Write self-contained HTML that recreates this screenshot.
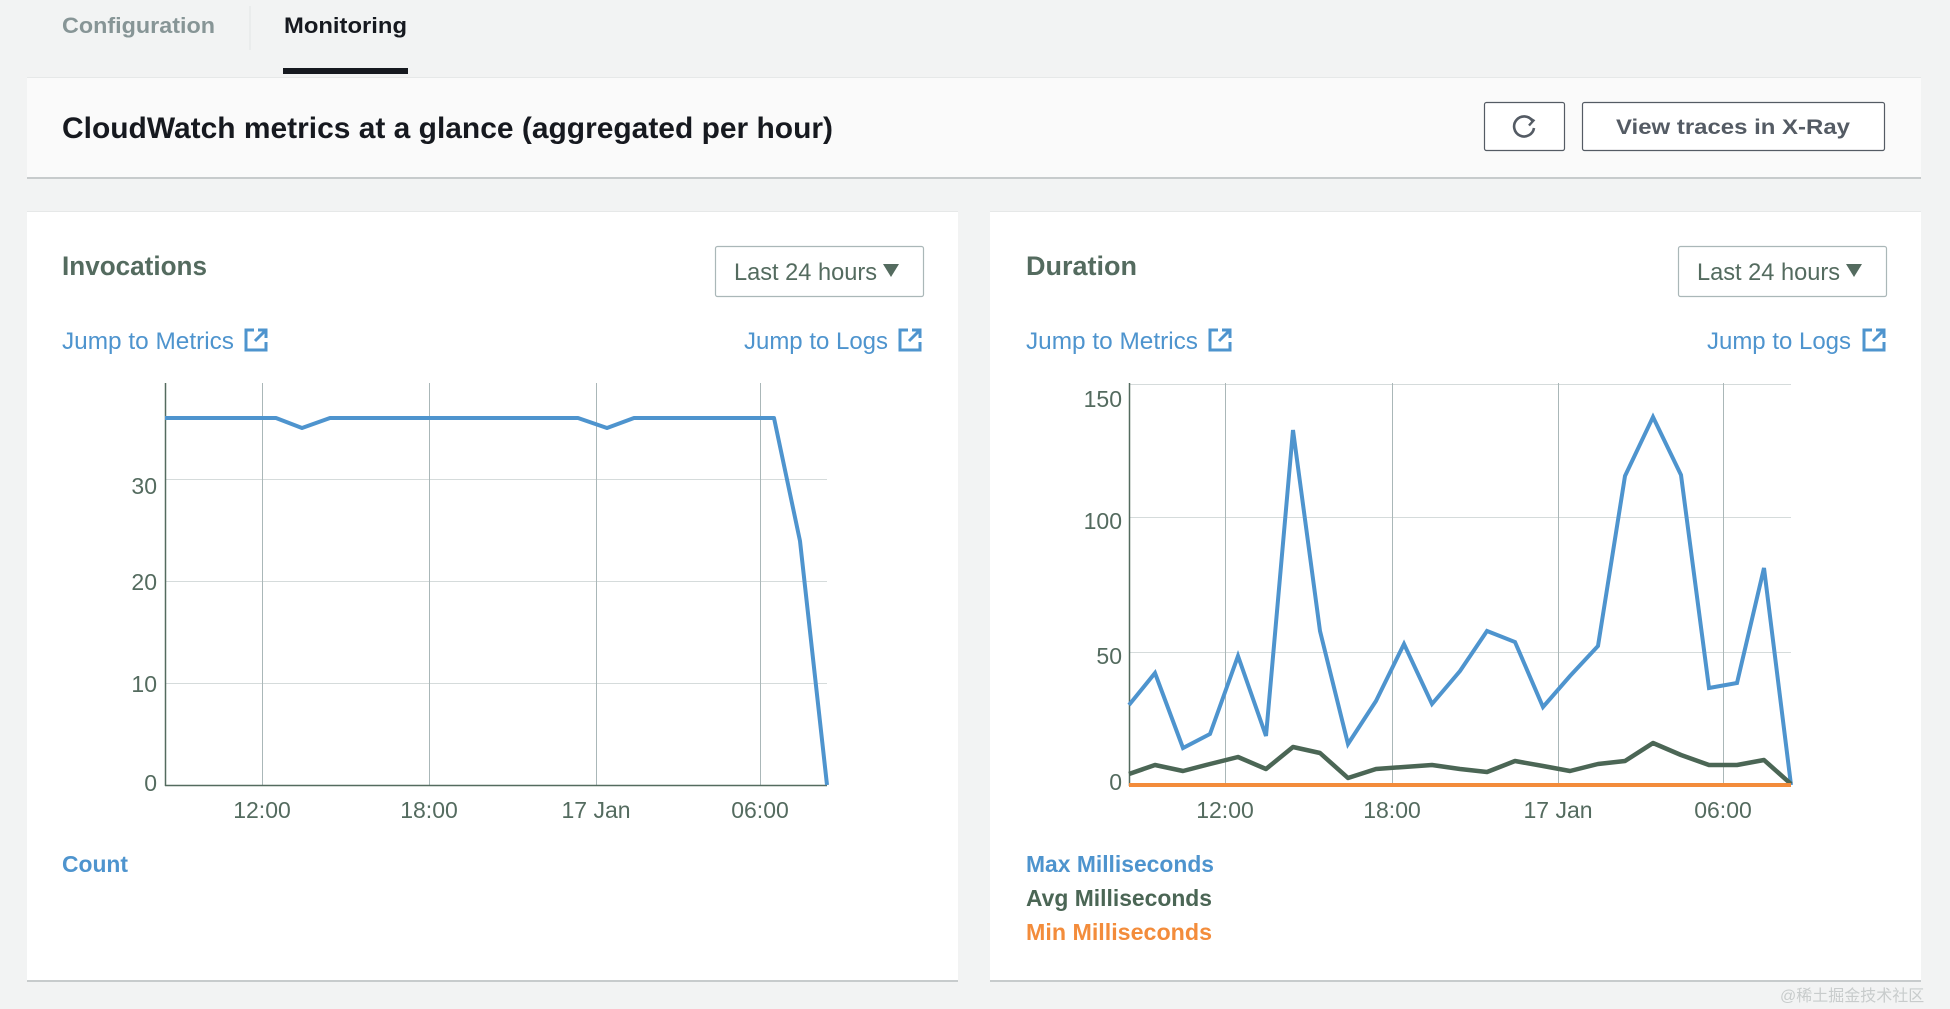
<!DOCTYPE html>
<html><head><meta charset="utf-8"><style>
html,body{margin:0;padding:0;background:#f2f3f3;}
svg{display:block;}
text{font-family:"Liberation Sans","Noto Sans CJK SC",sans-serif;}
</style></head><body>
<svg width="1950" height="1009" viewBox="0 0 1950 1009" xmlns="http://www.w3.org/2000/svg">
<rect width="1950" height="1009" fill="#f2f3f3"/>
<!-- tabs -->
<text x="62" y="33" font-size="22" font-weight="bold" fill="#879596" textLength="153" lengthAdjust="spacingAndGlyphs">Configuration</text>
<line x1="250" y1="6" x2="250" y2="50" stroke="#e3e6e6" stroke-width="1"/>
<text x="284" y="33" font-size="22" font-weight="bold" fill="#16191f" textLength="123" lengthAdjust="spacingAndGlyphs">Monitoring</text>
<rect x="283" y="68" width="125" height="6" fill="#16191f"/>
<!-- header card -->
<rect x="27" y="77" width="1894" height="101" fill="#fafafa"/>
<rect x="27" y="177" width="1894" height="2" fill="#c7cbcc"/>
<rect x="27" y="77" width="1894" height="1" fill="#e6e8e8"/>
<text x="62" y="138" font-size="30" font-weight="bold" fill="#16191f" textLength="771" lengthAdjust="spacingAndGlyphs">CloudWatch metrics at a glance (aggregated per hour)</text>
<rect x="1484.5" y="102.5" width="80" height="48" rx="2" fill="#fff" stroke="#545b64" stroke-width="1.2"/>
<g transform="translate(1524,126)" fill="none" stroke="#545b64" stroke-width="2.6">
<path d="M8.5,-5 A10,10 0 1 0 10,2"/>
<path d="M4,-9 L9.5,-5.5 L5,-0.5" stroke-width="2.4"/>
</g>
<rect x="1582.5" y="102.5" width="302" height="48" rx="2" fill="#fff" stroke="#545b64" stroke-width="1.2"/>
<text x="1733" y="134" font-size="21" font-weight="bold" fill="#545b64" text-anchor="middle" textLength="234" lengthAdjust="spacingAndGlyphs">View traces in X-Ray</text>

<!-- left card -->
<rect x="27" y="211" width="931" height="770" fill="#fff"/>
<rect x="27" y="980" width="931" height="2" fill="#c7cbcc"/>
<rect x="27" y="211" width="931" height="1" fill="#e6e8e8"/>
<text x="62" y="275" font-size="27" font-weight="bold" fill="#546b5f" textLength="145" lengthAdjust="spacingAndGlyphs">Invocations</text>
<rect x="715.5" y="246.5" width="208" height="50" rx="2" fill="#fff" stroke="#aab7b8" stroke-width="1.2"/>
<text x="734" y="280" font-size="24" fill="#546b5f" textLength="143" lengthAdjust="spacingAndGlyphs">Last 24 hours</text>
<path d="M883,264 L899,264 L891,277 Z" fill="#546b5f"/>
<text x="62" y="349" font-size="24" fill="#4e94ce" textLength="172" lengthAdjust="spacingAndGlyphs">Jump to Metrics</text>
<g transform="translate(244,328)" fill="none" stroke="#4e94ce" stroke-width="3"><path d="M10,2 H2 V22 H22 V14"/><path d="M11,13 L22,2 M14,2 H22 V10"/></g>
<text x="744" y="349" font-size="24" fill="#4e94ce" textLength="144" lengthAdjust="spacingAndGlyphs">Jump to Logs</text>
<g transform="translate(898,328)" fill="none" stroke="#4e94ce" stroke-width="3"><path d="M10,2 H2 V22 H22 V14"/><path d="M11,13 L22,2 M14,2 H22 V10"/></g>

<g stroke="#d5dbdb" stroke-width="1">
<line x1="165" y1="479.5" x2="827" y2="479.5"/><line x1="165" y1="581.5" x2="827" y2="581.5"/><line x1="165" y1="683.5" x2="827" y2="683.5"/>
</g>
<g stroke="#aab7b8" stroke-width="1">
<line x1="262.5" y1="383" x2="262.5" y2="785"/><line x1="429.5" y1="383" x2="429.5" y2="785"/><line x1="596.5" y1="383" x2="596.5" y2="785"/><line x1="760.5" y1="383" x2="760.5" y2="785"/>
</g>
<line x1="165.5" y1="383" x2="165.5" y2="786" stroke="#546b5f" stroke-width="1.5"/>
<line x1="165" y1="785.5" x2="827" y2="785.5" stroke="#546b5f" stroke-width="1.5"/>
<g font-size="23" fill="#546b5f" text-anchor="end">
<text x="157" y="494">30</text><text x="157" y="590">20</text><text x="157" y="692">10</text><text x="157" y="791">0</text>
</g>
<g font-size="23" fill="#546b5f" text-anchor="middle">
<text x="262" y="818">12:00</text><text x="429" y="818">18:00</text><text x="596" y="818">17 Jan</text><text x="760" y="818">06:00</text>
</g>
<polyline fill="none" stroke="#4e94ce" stroke-width="4" stroke-linejoin="round" points="165,418 276,418 302,428 330,418 578,418 607,428 634,418 774,418 800,541 827,785"/>
<text x="62" y="872" font-size="23" font-weight="bold" fill="#4e94ce" textLength="66" lengthAdjust="spacingAndGlyphs">Count</text>

<!-- right card -->
<rect x="990" y="211" width="931" height="770" fill="#fff"/>
<rect x="990" y="980" width="931" height="2" fill="#c7cbcc"/>
<rect x="990" y="211" width="931" height="1" fill="#e6e8e8"/>
<text x="1026" y="275" font-size="27" font-weight="bold" fill="#546b5f" textLength="111" lengthAdjust="spacingAndGlyphs">Duration</text>
<rect x="1678.5" y="246.5" width="208" height="50" rx="2" fill="#fff" stroke="#aab7b8" stroke-width="1.2"/>
<text x="1697" y="280" font-size="24" fill="#546b5f" textLength="143" lengthAdjust="spacingAndGlyphs">Last 24 hours</text>
<path d="M1846,264 L1862,264 L1854,277 Z" fill="#546b5f"/>
<text x="1026" y="349" font-size="24" fill="#4e94ce" textLength="172" lengthAdjust="spacingAndGlyphs">Jump to Metrics</text>
<g transform="translate(1208,328)" fill="none" stroke="#4e94ce" stroke-width="3"><path d="M10,2 H2 V22 H22 V14"/><path d="M11,13 L22,2 M14,2 H22 V10"/></g>
<text x="1707" y="349" font-size="24" fill="#4e94ce" textLength="144" lengthAdjust="spacingAndGlyphs">Jump to Logs</text>
<g transform="translate(1862,328)" fill="none" stroke="#4e94ce" stroke-width="3"><path d="M10,2 H2 V22 H22 V14"/><path d="M11,13 L22,2 M14,2 H22 V10"/></g>

<g stroke="#d5dbdb" stroke-width="1">
<line x1="1129" y1="384.5" x2="1791" y2="384.5"/><line x1="1129" y1="517.5" x2="1791" y2="517.5"/><line x1="1129" y1="652.5" x2="1791" y2="652.5"/>
</g>
<g stroke="#aab7b8" stroke-width="1">
<line x1="1225.5" y1="383" x2="1225.5" y2="785"/><line x1="1392.5" y1="383" x2="1392.5" y2="785"/><line x1="1558.5" y1="383" x2="1558.5" y2="785"/><line x1="1723.5" y1="383" x2="1723.5" y2="785"/>
</g>
<line x1="1129.5" y1="383" x2="1129.5" y2="786" stroke="#546b5f" stroke-width="1.5"/>
<g font-size="23" fill="#546b5f" text-anchor="end">
<text x="1122" y="407">150</text><text x="1122" y="529">100</text><text x="1122" y="664">50</text><text x="1122" y="790">0</text>
</g>
<g font-size="23" fill="#546b5f" text-anchor="middle">
<text x="1225" y="818">12:00</text><text x="1392" y="818">18:00</text><text x="1558" y="818">17 Jan</text><text x="1723" y="818">06:00</text>
</g>
<polyline fill="none" stroke="#4e94ce" stroke-width="4" stroke-linejoin="miter" points="1129,705 1155,673 1183,748 1210,734 1238,656 1266,736 1293,430 1320,631 1348,744 1376,701 1404,644 1432,704 1460,671 1487,631 1515,642 1543,707 1570,676 1598,646 1625,476 1653,417 1681,475 1709,688 1737,683 1764,568 1791,785"/>
<polyline fill="none" stroke="#4b6655" stroke-width="4.5" stroke-linejoin="round" points="1129,774 1155,765 1183,771 1210,764 1238,757 1266,769 1293,747 1320,753 1348,778 1376,769 1404,767 1432,765 1460,769 1487,772 1515,761 1543,766 1570,771 1598,764 1625,761 1653,743 1681,755 1709,765 1737,765 1764,760 1791,784"/>
<line x1="1129" y1="785" x2="1791" y2="785" stroke="#f38c3b" stroke-width="4"/>
<text x="1026" y="872" font-size="23" font-weight="bold" fill="#4e94ce" textLength="188" lengthAdjust="spacingAndGlyphs">Max Milliseconds</text>
<text x="1026" y="906" font-size="23" font-weight="bold" fill="#4b6655" textLength="186" lengthAdjust="spacingAndGlyphs">Avg Milliseconds</text>
<text x="1026" y="940" font-size="23" font-weight="bold" fill="#f38c3b" textLength="186" lengthAdjust="spacingAndGlyphs">Min Milliseconds</text>
<text x="1780" y="1001" font-size="16" fill="#c8cccc">@稀土掘金技术社区</text>
</svg>
</body></html>
